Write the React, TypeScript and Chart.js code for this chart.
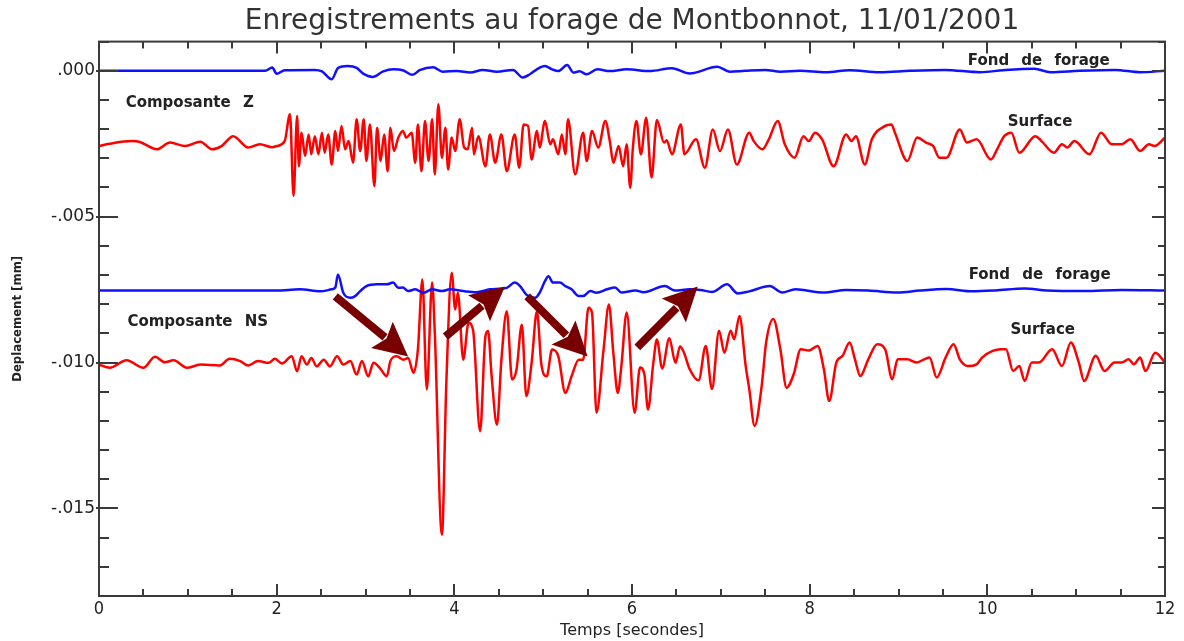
import React, { useEffect, useRef } from 'react';
import { Chart, registerables } from 'chart.js';

Chart.register(...registerables);

const TITLE = 'Enregistrements au forage de Montbonnot, 11/01/2001';
const X_TITLE = 'Temps [secondes]';
const Y_TITLE = 'Deplacement [mm]';

const X_TICKS = [0, 2, 4, 6, 8, 10, 12];
const Y_TICKS = [0, -0.005, -0.01, -0.015];

// [time (s), displacement (mm)]
const zBottom: [number, number][] = [
  [0, 0], [1.87, 0], [1.95, 0.00011], [2.0, -0.0001], [2.09, 0.00002], [2.43, 0.00003], [2.51, -0.00002],
  [2.62, -0.00029], [2.69, 0.00009], [2.8, 0.00016], [2.9, 0.0001], [2.97, -0.00009], [3.08, -0.00021],
  [3.2, -0.00002], [3.31, 0.00005], [3.42, 0.00002], [3.53, -0.00014], [3.61, 0.00002], [3.76, 0.00012],
  [3.87, -0.00003], [4.03, -0.00001], [4.18, -0.00006], [4.32, 0.00003], [4.48, -0.00003], [4.66, 0.00003],
  [4.77, -0.00023], [4.85, -0.00012], [4.93, 0.00005], [5.02, 0.00016], [5.1, 0.00005], [5.17, -0.00001],
  [5.27, 0.0002], [5.34, -0.00006], [5.41, -0.00002], [5.49, -0.00012], [5.61, 0.00005], [5.75, -0.00001],
  [5.94, 0.00005], [6.2, -0.00001], [6.45, 0.00009], [6.65, -0.00009], [6.96, 0.00014], [7.1, -0.00003],
  [7.27, 0], [7.5, 0.00003], [7.67, -0.00003], [7.89, 0], [8.18, -0.00005], [8.45, 0.00002], [8.79, -0.00005],
  [9.13, 0], [9.52, 0.00003], [9.92, -0.00005], [10.18, 0.00002], [10.53, 0.00007], [10.71, -0.00005],
  [11.04, 0], [11.44, 0.00003], [11.72, -0.00005], [12.0, 0],
];

const zSurface: [number, number][] = [
  [0, -0.00258], [0.12, -0.0025], [0.37, -0.00241], [0.46, -0.00244], [0.65, -0.00269], [0.8, -0.00246],
  [0.97, -0.00258], [1.14, -0.00243], [1.27, -0.00269], [1.38, -0.00258], [1.51, -0.00224], [1.68, -0.00263],
  [1.81, -0.00252], [1.95, -0.00262], [2.0, -0.00258], [2.09, -0.00241], [2.15, -0.00149], [2.19, -0.00429],
  [2.23, -0.00155], [2.25, -0.00327], [2.28, -0.00212], [2.32, -0.00292], [2.36, -0.00218], [2.39, -0.00286],
  [2.43, -0.00224], [2.47, -0.00286], [2.51, -0.00212], [2.54, -0.00281], [2.58, -0.00218], [2.62, -0.00321],
  [2.66, -0.00206], [2.69, -0.00275], [2.73, -0.00189], [2.77, -0.00269], [2.81, -0.00241], [2.86, -0.00315],
  [2.9, -0.00166], [2.94, -0.00275], [2.98, -0.00166], [3.01, -0.00309], [3.05, -0.00184], [3.1, -0.00395],
  [3.13, -0.00195], [3.17, -0.00309], [3.21, -0.00218], [3.25, -0.00344], [3.28, -0.00195], [3.32, -0.00275],
  [3.37, -0.00229], [3.42, -0.00206], [3.46, -0.00229], [3.52, -0.00212], [3.56, -0.00315], [3.59, -0.00184],
  [3.63, -0.00344], [3.67, -0.00172], [3.71, -0.00309], [3.75, -0.00166], [3.78, -0.00355], [3.82, -0.00115],
  [3.86, -0.00298], [3.9, -0.00195], [3.93, -0.00338], [3.97, -0.00229], [4.01, -0.00275], [4.06, -0.00166],
  [4.11, -0.00263], [4.15, -0.00269], [4.2, -0.00195], [4.22, -0.00286], [4.27, -0.00224], [4.35, -0.00327],
  [4.4, -0.00218], [4.46, -0.00315], [4.53, -0.00218], [4.59, -0.00344], [4.68, -0.00218], [4.73, -0.00332],
  [4.78, -0.00184], [4.83, -0.00189], [4.87, -0.00304], [4.93, -0.00206], [4.96, -0.00263], [5.02, -0.00172],
  [5.08, -0.00252], [5.11, -0.00235], [5.17, -0.00286], [5.21, -0.00218], [5.25, -0.00286], [5.28, -0.00166],
  [5.36, -0.00355], [5.45, -0.00212], [5.49, -0.00309], [5.55, -0.00206], [5.62, -0.00263], [5.7, -0.00172],
  [5.75, -0.00241], [5.79, -0.00315], [5.85, -0.00258], [5.9, -0.00327], [5.94, -0.00252], [5.98, -0.00401],
  [6.01, -0.00263], [6.05, -0.00172], [6.1, -0.00286], [6.16, -0.00161], [6.22, -0.00366], [6.28, -0.00169],
  [6.36, -0.00246], [6.39, -0.00238], [6.45, -0.00286], [6.55, -0.00184], [6.59, -0.00286], [6.72, -0.00235],
  [6.82, -0.00332], [6.91, -0.00201], [6.99, -0.00275], [7.08, -0.00201], [7.18, -0.00321], [7.32, -0.00212],
  [7.37, -0.00241], [7.47, -0.00269], [7.54, -0.00235], [7.64, -0.00172], [7.72, -0.00252], [7.83, -0.00298],
  [7.93, -0.00224], [7.99, -0.00241], [8.06, -0.00212], [8.14, -0.00235], [8.27, -0.00327], [8.41, -0.00218],
  [8.47, -0.00241], [8.52, -0.00224], [8.62, -0.00321], [8.7, -0.00235], [8.85, -0.00189], [8.92, -0.00184],
  [8.96, -0.00212], [9.1, -0.00309], [9.21, -0.00229], [9.31, -0.00246], [9.39, -0.00258], [9.46, -0.00298],
  [9.54, -0.00298], [9.69, -0.00201], [9.77, -0.00246], [9.88, -0.00235], [10.04, -0.00304], [10.11, -0.00269],
  [10.19, -0.00224], [10.27, -0.00212], [10.36, -0.00281], [10.54, -0.00224], [10.61, -0.00241], [10.75, -0.00281],
  [10.84, -0.00252], [10.9, -0.00263], [10.98, -0.00241], [11.15, -0.00286], [11.28, -0.00212], [11.4, -0.00252],
  [11.51, -0.00252], [11.61, -0.00235], [11.72, -0.00275], [11.82, -0.00252], [11.88, -0.00258], [12.0, -0.00229],
];

const nsBottom: [number, number][] = [
  [0, -0.00753], [2.0, -0.00753], [2.26, -0.00749], [2.49, -0.00756], [2.62, -0.00749], [2.66, -0.00743],
  [2.69, -0.00698], [2.75, -0.00761], [2.83, -0.00778], [2.88, -0.00773], [2.94, -0.00755], [3.01, -0.00738],
  [3.13, -0.00732], [3.24, -0.00732], [3.31, -0.00726], [3.37, -0.00744], [3.42, -0.00743], [3.48, -0.00755],
  [3.56, -0.00749], [3.65, -0.00761], [3.75, -0.00749], [3.86, -0.00755], [3.95, -0.00749], [4.1, -0.00755],
  [4.25, -0.00759], [4.4, -0.00749], [4.51, -0.00747], [4.59, -0.00744], [4.68, -0.00726], [4.74, -0.00738],
  [4.81, -0.00767], [4.91, -0.00778], [4.96, -0.00761], [5.02, -0.00721], [5.06, -0.00704], [5.11, -0.00726],
  [5.19, -0.00726], [5.25, -0.00738], [5.32, -0.00749], [5.4, -0.00772], [5.45, -0.00772], [5.53, -0.00755],
  [5.6, -0.00761], [5.72, -0.00749], [5.81, -0.00743], [5.88, -0.0076], [6.04, -0.00753], [6.13, -0.00759],
  [6.37, -0.00738], [6.48, -0.00753], [6.65, -0.00749], [6.77, -0.00751], [6.9, -0.00758], [7.07, -0.00732],
  [7.19, -0.00763], [7.32, -0.00756], [7.55, -0.00738], [7.69, -0.0076], [7.84, -0.00749], [8.16, -0.0076],
  [8.41, -0.00751], [8.66, -0.00753], [8.99, -0.0076], [9.24, -0.00753], [9.54, -0.00748], [9.83, -0.00756],
  [10.09, -0.00753], [10.42, -0.00746], [10.67, -0.00753], [11.09, -0.00755], [11.51, -0.00751], [12.0, -0.00753],
];

const nsSurface: [number, number][] = [
  [0, -0.01007], [0.12, -0.01018], [0.31, -0.00992], [0.5, -0.01018], [0.63, -0.0098], [0.74, -0.00999],
  [0.84, -0.00992], [0.99, -0.01018], [1.14, -0.01007], [1.36, -0.0101], [1.47, -0.00987], [1.59, -0.00995],
  [1.68, -0.0101], [1.79, -0.00995], [1.91, -0.01001], [1.98, -0.00987], [2.06, -0.01003], [2.17, -0.00978],
  [2.23, -0.0103], [2.28, -0.00978], [2.34, -0.01007], [2.39, -0.00984], [2.45, -0.01013], [2.53, -0.0099],
  [2.6, -0.01013], [2.68, -0.00978], [2.75, -0.01007], [2.83, -0.00995], [2.9, -0.01041], [2.96, -0.00995],
  [3.03, -0.01047], [3.09, -0.01001], [3.16, -0.01018], [3.24, -0.01047], [3.28, -0.00995], [3.35, -0.00978],
  [3.43, -0.0099], [3.48, -0.00984], [3.54, -0.01035], [3.59, -0.00955], [3.64, -0.00715], [3.69, -0.01092],
  [3.75, -0.00726], [3.78, -0.00898], [3.86, -0.0159], [3.91, -0.01069], [3.97, -0.00692], [4.01, -0.00818],
  [4.04, -0.00761], [4.1, -0.0099], [4.16, -0.00864], [4.21, -0.00887], [4.29, -0.01235], [4.35, -0.0091],
  [4.38, -0.00892], [4.42, -0.01047], [4.48, -0.01213], [4.53, -0.0099], [4.59, -0.00824], [4.65, -0.01058],
  [4.7, -0.01024], [4.76, -0.0087], [4.81, -0.01115], [4.87, -0.01001], [4.93, -0.00824], [4.98, -0.01007],
  [5.04, -0.01047], [5.1, -0.00955], [5.17, -0.00978], [5.25, -0.01104], [5.32, -0.01047], [5.4, -0.0099],
  [5.45, -0.0099], [5.51, -0.00812], [5.55, -0.00829], [5.6, -0.01172], [5.68, -0.00955], [5.74, -0.00801],
  [5.79, -0.00967], [5.84, -0.01104], [5.88, -0.01013], [5.94, -0.00828], [6.03, -0.01172], [6.09, -0.01017],
  [6.14, -0.01041], [6.18, -0.01161], [6.24, -0.01001], [6.28, -0.00921], [6.34, -0.0102], [6.42, -0.00917],
  [6.49, -0.01001], [6.54, -0.00945], [6.58, -0.00962], [6.65, -0.01023], [6.75, -0.01061], [6.83, -0.00943],
  [6.9, -0.01091], [6.98, -0.00891], [7.04, -0.00966], [7.11, -0.00891], [7.15, -0.0092], [7.21, -0.0084],
  [7.28, -0.01012], [7.32, -0.01091], [7.38, -0.01217], [7.46, -0.0108], [7.51, -0.00931], [7.59, -0.00851],
  [7.67, -0.00954], [7.74, -0.01086], [7.82, -0.0104], [7.9, -0.00954], [7.99, -0.00959], [8.09, -0.00943],
  [8.16, -0.01023], [8.22, -0.01132], [8.3, -0.01], [8.37, -0.00977], [8.45, -0.00931], [8.51, -0.00989],
  [8.57, -0.01046], [8.66, -0.00989], [8.76, -0.00937], [8.85, -0.00955], [8.93, -0.01057], [8.99, -0.00989],
  [9.1, -0.00989], [9.2, -0.01], [9.29, -0.00989], [9.35, -0.00983], [9.43, -0.01051], [9.53, -0.00983],
  [9.62, -0.00937], [9.69, -0.00989], [9.78, -0.01012], [9.88, -0.01006], [9.94, -0.00983], [10.06, -0.0096],
  [10.15, -0.00954], [10.21, -0.00954], [10.29, -0.01029], [10.36, -0.01012], [10.42, -0.01063], [10.5, -0.01],
  [10.58, -0.01], [10.73, -0.00954], [10.84, -0.01012], [10.94, -0.00931], [11.03, -0.01], [11.09, -0.01063],
  [11.22, -0.00977], [11.32, -0.01029], [11.43, -0.01], [11.51, -0.01], [11.59, -0.00989], [11.65, -0.01006],
  [11.72, -0.00983], [11.78, -0.01029], [11.89, -0.00966], [12.0, -0.01],
];

const LABELS = [
  { text: 'Fond de forage', t: 9.78, v: 0.00034 },
  { text: 'Composante Z', t: 0.3, v: -0.00111 },
  { text: 'Surface', t: 10.23, v: -0.00177 },
  { text: 'Fond de forage', t: 9.79, v: -0.007 },
  { text: 'Composante NS', t: 0.32, v: -0.00863 },
  { text: 'Surface', t: 10.26, v: -0.0089 },
];

const ARROWS = [
  { from: [2.66, -0.00773], to: [3.48, -0.00979] },
  { from: [3.9, -0.00911], to: [4.57, -0.00739] },
  { from: [4.82, -0.00773], to: [5.5, -0.00979] },
  { from: [6.06, -0.00948], to: [6.74, -0.00739] },
];

const toPoints = (arr: [number, number][]) => arr.map(([x, y]) => ({ x, y }));

const frameAndTicks = {
  id: 'frameAndTicks',
  afterDatasetsDraw(chart: any) {
    const { ctx, chartArea: a, scales } = chart;
    const xs = scales.x;
    const ys = scales.y;
    ctx.save();
    ctx.strokeStyle = '#3a3a3a';
    ctx.lineWidth = 2;
    const line = (x0: number, y0: number, x1: number, y1: number) => {
      ctx.beginPath();
      ctx.moveTo(x0, y0);
      ctx.lineTo(x1, y1);
      ctx.stroke();
    };
    for (let k = 0; k <= 24; k++) {
      const v = k * 0.5;
      const px = Math.round(xs.getPixelForValue(v));
      const major = k % 4 === 0;
      const len = major ? 12 : 7;
      line(px, a.bottom, px, a.bottom - len);
      line(px, a.top, px, a.top + len);
    }
    for (let k = -18; k <= 1; k++) {
      const v = k * 0.001;
      const py = Math.round(ys.getPixelForValue(v));
      const major = k % 5 === 0;
      line(a.left - (major ? 3 : 0), py, a.left + (major ? 19 : 10), py);
      line(a.right, py, a.right - (major ? 13 : 7), py);
    }
    ctx.strokeRect(a.left, a.top, a.right - a.left, a.bottom - a.top);
    ctx.restore();
  },
};

const annotations = {
  id: 'annotations',
  afterDatasetsDraw(chart: any) {
    const { ctx, scales } = chart;
    const xs = scales.x;
    const ys = scales.y;
    ctx.save();
    ctx.fillStyle = '#222';
    ctx.font = 'bold 15px "DejaVu Sans", sans-serif';
    ctx.textAlign = 'left';
    ctx.textBaseline = 'middle';
    try { (ctx as any).wordSpacing = '7px'; } catch (e) { /* ignore */ }
    LABELS.forEach((l) => {
      ctx.fillText(l.text, xs.getPixelForValue(l.t), ys.getPixelForValue(l.v));
    });
    ctx.fillStyle = '#780000';
    ctx.strokeStyle = '#780000';
    ARROWS.forEach((ar) => {
      const x0 = xs.getPixelForValue(ar.from[0]);
      const y0 = ys.getPixelForValue(ar.from[1]);
      const x1 = xs.getPixelForValue(ar.to[0]);
      const y1 = ys.getPixelForValue(ar.to[1]);
      const ang = Math.atan2(y1 - y0, x1 - x0);
      const c = Math.cos(ang);
      const s = Math.sin(ang);
      const headLen = 34;
      const headHalf = 17;
      const bx = x1 - headLen * c;
      const by = y1 - headLen * s;
      ctx.lineWidth = 8;
      ctx.lineCap = 'butt';
      ctx.beginPath();
      ctx.moveTo(x0, y0);
      ctx.lineTo(bx + 4 * c, by + 4 * s);
      ctx.stroke();
      ctx.beginPath();
      ctx.moveTo(x1, y1);
      ctx.lineTo(bx - s * headHalf, by + c * headHalf);
      ctx.lineTo(bx + 6 * c, by + 6 * s);
      ctx.lineTo(bx + s * headHalf, by - c * headHalf);
      ctx.closePath();
      ctx.fill();
    });
    ctx.restore();
  },
};

export default function App() {
  const ref = useRef<HTMLCanvasElement | null>(null);
  useEffect(() => {
    if (!ref.current) return;
    const mk = (label: string, data: [number, number][], color: string) => ({
      label,
      data: toPoints(data),
      borderColor: color,
      backgroundColor: color,
      borderWidth: 2.5,
      pointRadius: 0,
      cubicInterpolationMode: 'monotone',
      fill: false,
    });
    const chart = new Chart(ref.current, {
      type: 'line',
      data: {
        datasets: [
          mk('Fond de forage Z', zBottom, '#1010ff'),
          mk('Surface Z', zSurface, '#ff0000'),
          mk('Fond de forage NS', nsBottom, '#1010ff'),
          mk('Surface NS', nsSurface, '#ff0000'),
        ],
      },
      options: {
        animation: false,
        responsive: false,
        devicePixelRatio: 1,
        layout: { padding: { left: 0, right: 19, top: 1, bottom: 0 } },
        plugins: {
          legend: { display: false },
          tooltip: { enabled: false },
          title: {
            display: true,
            fullSize: false,
            text: TITLE,
            color: '#333',
            font: { family: '"DejaVu Sans", sans-serif', size: 28, weight: 'normal' },
            padding: { top: 4, bottom: 3 },
          },
        },
        scales: {
          x: {
            type: 'linear',
            min: 0,
            max: 12,
            grid: { display: false, drawTicks: false },
            border: { display: false },
            ticks: {
              color: '#222',
              font: { family: '"DejaVu Sans Condensed", "DejaVu Sans", sans-serif', size: 18 },
              padding: 3,
              maxRotation: 0,
              autoSkip: false,
            },
            afterBuildTicks: (s: any) => { s.ticks = X_TICKS.map((v) => ({ value: v })); },
            afterFit: (s: any) => { s.height = 45; },
            title: {
              display: true,
              text: X_TITLE,
              color: '#222',
              font: { family: '"DejaVu Sans", sans-serif', size: 16 },
              padding: { top: 0, bottom: 1 },
            },
          },
          y: {
            type: 'linear',
            min: -0.018,
            max: 0.001,
            grid: { display: false, drawTicks: false },
            border: { display: false },
            ticks: {
              color: '#222',
              font: { family: '"DejaVu Sans", sans-serif', size: 17 },
              padding: 4,
              autoSkip: false,
              callback: (v: any) => Number(v).toFixed(3).replace('0.', '.'),
            },
            afterBuildTicks: (s: any) => { s.ticks = Y_TICKS.map((v) => ({ value: v })); },
            afterFit: (s: any) => { s.width = 99; },
            title: {
              display: true,
              text: Y_TITLE,
              color: '#222',
              font: { family: '"DejaVu Sans Condensed", "DejaVu Sans", sans-serif', size: 13, weight: 'bold' },
              padding: { top: 10, bottom: 0 },
            },
          },
        },
      } as any,
      plugins: [frameAndTicks, annotations],
    });
    return () => chart.destroy();
  }, []);
  return (
    <div style={{ position: 'absolute', left: 0, top: 0, width: 1184, height: 641, background: '#fff' }}>
      <canvas ref={ref} width={1184} height={641} style={{ display: 'block' }} />
    </div>
  );
}
